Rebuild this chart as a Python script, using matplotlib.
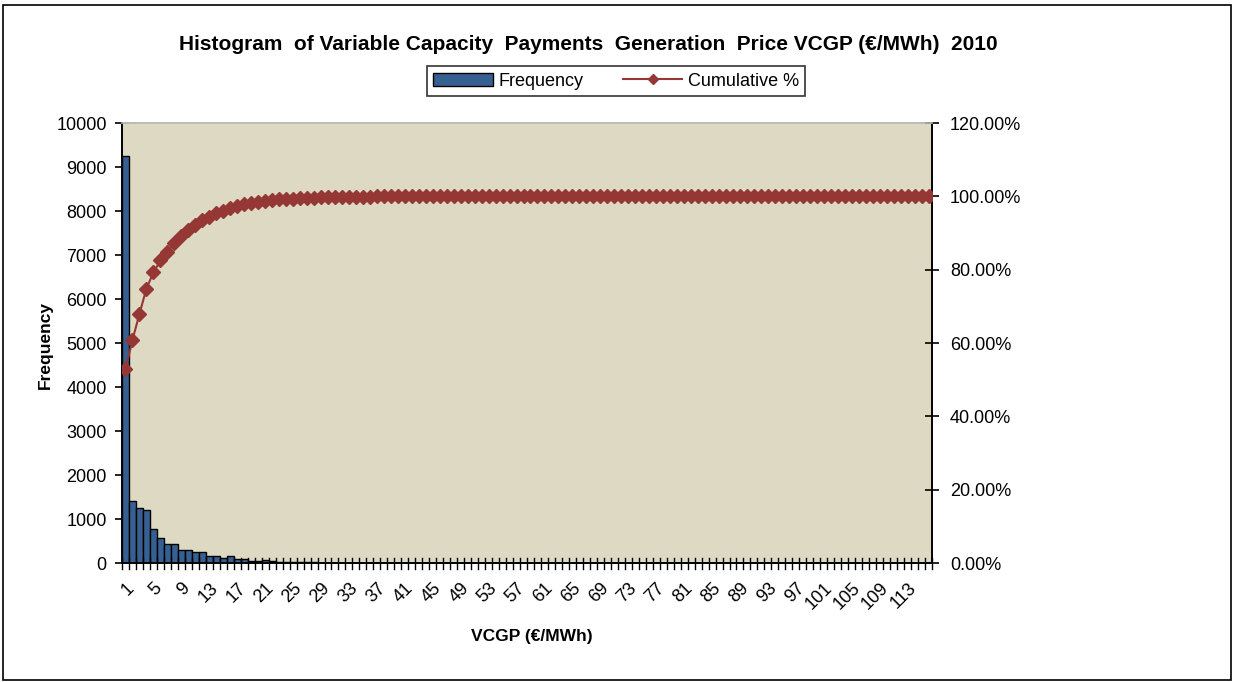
import matplotlib
matplotlib.use("Agg")
import matplotlib.pyplot as plt
import numpy as np
from matplotlib import font_manager
from matplotlib.lines import Line2D
from matplotlib.patches import Patch, Rectangle
from matplotlib.ticker import FuncFormatter, FixedLocator

# ---- data ----
categories = list(range(1, 117))
frequency = [9250, 1409, 1243, 1212, 766, 575, 425, 425, 302, 302,
             243, 243, 152, 152, 120, 159, 84, 84, 52, 38,
             61, 40, 32, 25, 20, 18, 15, 12, 10, 9,
             8, 7, 6, 5, 4, 3, 2, 0, 0, 0,
             0, 0, 0, 0, 0, 0, 0, 0, 0, 0,
             0, 0, 0, 0, 0, 0, 0, 0, 0, 0,
             0, 0, 0, 0, 0, 0, 0, 0, 0, 0,
             0, 0, 0, 0, 0, 0, 0, 0, 0, 0,
             0, 0, 0, 0, 0, 0, 0, 0, 0, 0,
             0, 0, 0, 0, 0, 0, 0, 0, 0, 0,
             0, 3, 0, 0, 0, 0, 0, 0, 0, 0,
             0, 0, 0, 0, 0, 3]
cumulative = list(np.cumsum(frequency) / np.sum(frequency) * 100)
tick_labels = [str(c) if (c - 1) % 4 == 0 else "" for c in categories]

names = {f.name for f in font_manager.fontManager.ttflist}
base = "Liberation Sans" if "Liberation Sans" in names else "DejaVu Sans"
narrow = "Liberation Sans Narrow" if "Liberation Sans Narrow" in names else base
plt.rcParams['font.family'] = [base, 'DejaVu Sans']

W, H = 1234, 682
fig = plt.figure(figsize=(W / 100, H / 100), dpi=100)
fig.patch.set_facecolor("white")
fig.patches.append(Rectangle((3 / W, 2 / H), 1228 / W, 675 / H, transform=fig.transFigure,
                             fill=False, edgecolor="black", linewidth=1.2))

ax = fig.add_axes([122 / W, 1 - 563 / H, 810 / W, 440 / H])
ax.set_facecolor("#DDD9C3")
x = np.arange(len(categories))
ax.bar(x, frequency, width=1.0, color="#376092", edgecolor="black", linewidth=1.0, zorder=2)
ax.set_xlim(-0.5, len(categories) - 0.5)
ax.set_ylim(0, 10000)
ax.set_yticks(np.arange(0, 10001, 1000))
ax.tick_params(axis='y', direction='inout', length=10, width=1.2, labelsize=13, pad=6)
ax.xaxis.set_major_locator(FixedLocator(x))
ax.set_xticklabels(tick_labels, rotation=45, ha='right', rotation_mode='anchor', fontsize=13)
ax.tick_params(axis='x', length=0, pad=12)
# category boundary ticks
for b in np.arange(-0.5, len(categories), 1.0):
    ax.plot([b, b], [-0.014, 0.012], transform=ax.get_xaxis_transform(), color="black",
            linewidth=1.0, clip_on=False, zorder=5)
for s in ax.spines.values():
    s.set_linewidth(1.2)
ax.spines['top'].set_color("#BBBBBB")

ax2 = ax.twinx()
ax2.plot(x, cumulative, color="#953735", marker="D", markersize=7, linewidth=1.5, zorder=3)
ax2.set_ylim(0, 120)
ax2.set_yticks(np.arange(0, 121, 20))
ax2.yaxis.set_major_formatter(FuncFormatter(lambda v, p: f"{v:.2f}%"))
ax2.tick_params(axis='y', direction='inout', length=10, width=1.2, labelsize=13, pad=8)
for s in ax2.spines.values():
    s.set_linewidth(1.2)
ax2.spines['top'].set_color("#BBBBBB")

fig.text(588 / W, 1 - 44 / H,
         "Histogram  of Variable Capacity  Payments  Generation  Price VCGP (€/MWh)  2010",
         ha='center', va='center', fontsize=15, fontweight='bold', family=[narrow, 'DejaVu Sans'])
fig.text(532 / W, 1 - 637 / H, "VCGP (€/MWh)", ha='center', va='center', fontsize=12.5, fontweight='bold')
fig.text(45 / W, 1 - 345 / H, "Frequency", ha='center', va='center', rotation=90, fontsize=12.5, fontweight='bold')

handles = [Patch(facecolor="#376092", edgecolor="black", linewidth=1.0),
           Line2D([0], [0], color="#953735", marker="D", markersize=5, linewidth=1.5)]
leg = fig.legend(handles, ["Frequency", "Cumulative %"], loc='center', ncol=2,
                 bbox_to_anchor=(616 / W, 1 - 81 / H), fontsize=13, frameon=True,
                 fancybox=False, edgecolor="black", handlelength=3.3, columnspacing=2.2,
                 handletextpad=0.3, borderpad=0.35, borderaxespad=0)
leg.get_frame().set_linewidth(1.2)

fig.savefig("out.png", dpi=100)
